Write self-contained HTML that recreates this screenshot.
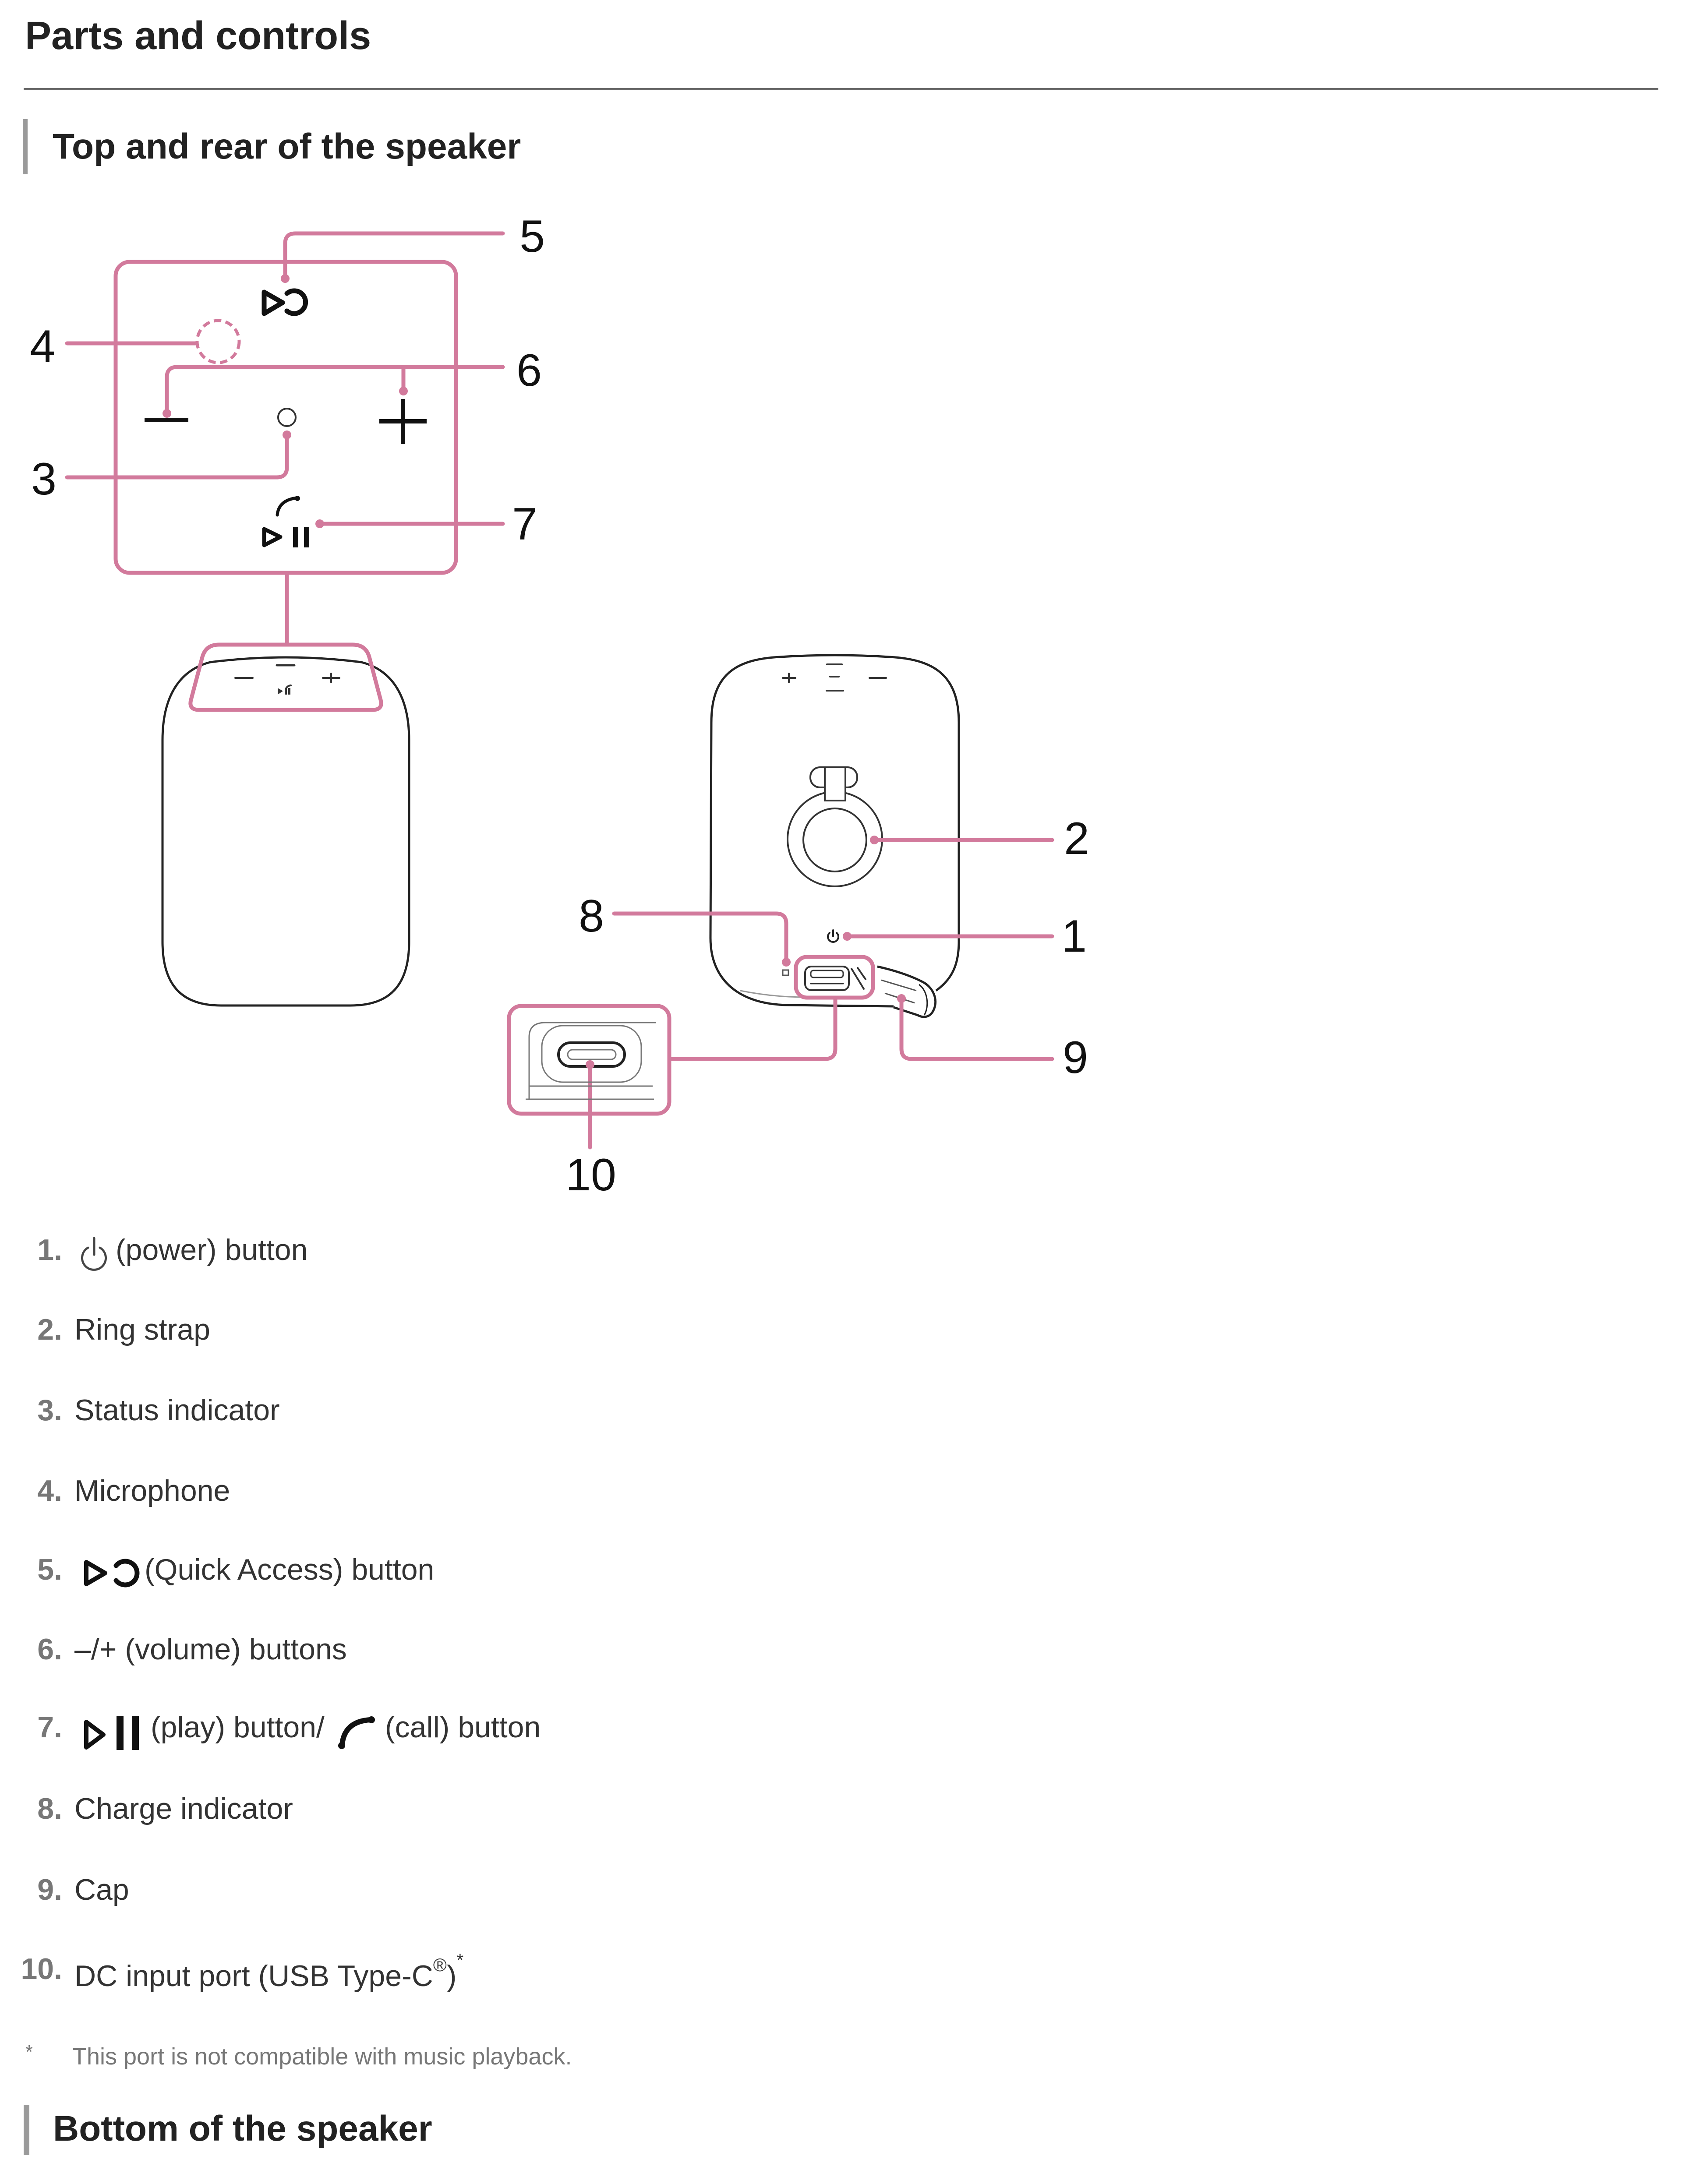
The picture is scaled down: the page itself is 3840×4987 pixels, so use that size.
<!DOCTYPE html>
<html>
<head>
<meta charset="utf-8">
<style>
  html,body{margin:0;padding:0;background:#fff;}
  svg{display:block;}
  text{font-family:"Liberation Sans", Arial, sans-serif;}
</style>
</head>
<body>
<svg width="3840" height="4987" viewBox="0 0 3840 4987" xmlns="http://www.w3.org/2000/svg">
  <rect x="0" y="0" width="3840" height="4987" fill="#fff"/>

  <!-- Title -->
  <text x="57" y="112" font-size="90" font-weight="bold" fill="#222">Parts and controls</text>
  <rect x="54" y="201" width="3732" height="5" fill="#666"/>

  <!-- Heading 1 -->
  <rect x="52" y="272" width="11" height="126" fill="#9a9a9a"/>
  <text x="120" y="362" font-size="82" font-weight="bold" fill="#222">Top and rear of the speaker</text>

  <!-- ===== Top panel callout box ===== -->
  <g fill="none" stroke="#d27a9c" stroke-width="9" stroke-linecap="round" stroke-linejoin="round">
    <rect x="264" y="598" width="777" height="710" rx="32"/>
    <!-- 5 -->
    <path d="M1148 533 H674 Q651 533 651 556 V628"/>
    <!-- 4 -->
    <path d="M153 784 H448"/>
    <!-- 6 -->
    <path d="M1148 838 H404 Q381 838 381 861 V935"/>
    <path d="M921 838 V885"/>
    <!-- 3 -->
    <path d="M655 993 V1067 Q655 1090 632 1090 H153"/>
    <!-- 7 -->
    <path d="M1148 1196 H730"/>
    <!-- connector to speaker -->
    <path d="M655 1308 V1472"/>
  </g>
  <!-- dashed mic circle -->
  <circle cx="498" cy="780" r="48" fill="none" stroke="#d27a9c" stroke-width="7" stroke-dasharray="17 10"/>
  <!-- dots -->
  <g fill="#d27a9c">
    <circle cx="651" cy="636" r="10"/>
    <circle cx="381" cy="944" r="10"/>
    <circle cx="921" cy="893" r="10"/>
    <circle cx="655" cy="993" r="10"/>
    <circle cx="730" cy="1196" r="10"/>
  </g>

  <!-- panel icons -->
  <g fill="none" stroke="#111" stroke-linecap="round" stroke-linejoin="round">
    <!-- quick access -->
    <polygon points="603,667 603,716 645,691" stroke-width="11"/>
    <path d="M655 670 A26 26 0 1 1 655 710" stroke-width="11"/>
    <!-- minus / plus -->
    <path d="M330 959 H430" stroke-width="10" stroke-linecap="butt"/>
    <path d="M866 962 H974 M920 911 V1014" stroke-width="10" stroke-linecap="butt"/>
    <!-- status -->
    <circle cx="655" cy="953" r="20" stroke="#333" stroke-width="4"/>
    <!-- play/pause -->
    <polygon points="603,1208 603,1245 640,1226" stroke-width="9"/>
    <path d="M633 1176 Q636 1143 676 1137" stroke-width="7"/>
  </g>
  <g fill="#111">
    <rect x="669" y="1203" width="12" height="47"/>
    <rect x="694" y="1203" width="12" height="47"/>
    <circle cx="679" cy="1138" r="6"/>
  </g>

  <!-- ===== Left speaker ===== -->
  <path d="M371 2150 L371 1690 C371 1590 410 1530 480 1512 Q652 1490 825 1512 C895 1530 934 1590 934 1690 L934 2150 C934 2250 890 2296 800 2296 L505 2296 C415 2296 371 2250 371 2150 Z" fill="none" stroke="#222" stroke-width="5"/>
  <g stroke="#333" stroke-width="4" fill="none" stroke-linecap="round">
    <path d="M632 1519 H672" stroke-width="5"/>
    <path d="M537 1548 H577"/>
    <path d="M737 1548 H775 M756 1538 V1558"/>
    <path d="M652 1574 Q655 1566 664 1565"/>
  </g>
  <g fill="#333">
    <polygon points="634,1571 634,1586 646,1578"/>
    <rect x="650" y="1571" width="5" height="15"/>
    <rect x="658" y="1571" width="5" height="15"/>
  </g>
  <path d="M500 1472 L805 1472 Q835 1472 843 1500 L869 1598 Q875 1621 850 1621 L455 1621 Q430 1621 436 1598 L462 1500 Q470 1472 500 1472 Z" fill="none" stroke="#d27a9c" stroke-width="9"/>

  <!-- ===== Right speaker ===== -->
  <path d="M2137 2262 C2175 2235 2189 2200 2189 2150 L2189 1650 C2189 1540 2130 1505 2030 1500 Q1906 1492 1781 1500 C1680 1505 1624 1540 1624 1650 L1622 2142 C1622 2240 1690 2294 1800 2295 L2040 2298" fill="none" stroke="#222" stroke-width="5"/>
  <path d="M1690 2262 Q1760 2276 1830 2277" fill="none" stroke="#999" stroke-width="3"/>
  <!-- top markings -->
  <g stroke="#333" stroke-width="4" fill="none" stroke-linecap="round">
    <path d="M1787 1548 H1816 M1801 1538 V1558"/>
    <path d="M1985 1548 H2023"/>
    <path d="M1895 1545 H1915"/>
    <path d="M1887 1577 H1925"/>
    <path d="M1888 1517 H1922"/>
  </g>
  <!-- ring strap -->
  <g fill="none" stroke="#333" stroke-width="4">
    <circle cx="1906" cy="1916" r="108"/>
    <circle cx="1906" cy="1918" r="72"/>
    <rect x="1850" y="1752" width="107" height="46" rx="22" fill="#fff"/>
    <rect x="1883" y="1752" width="47" height="76" fill="#fff"/>
  </g>
  <!-- power icon -->
  <g fill="none" stroke="#222" stroke-width="4" stroke-linecap="round">
    <path d="M1894 2130 A12 12 0 1 0 1910 2130"/>
    <path d="M1902 2124 V2138"/>
  </g>
  <!-- charge indicator -->
  <rect x="1787" y="2215" width="13" height="12" fill="none" stroke="#555" stroke-width="3"/>
  <!-- port -->
  <g fill="none" stroke="#333" stroke-width="4" stroke-linecap="round">
    <rect x="1838" y="2207" width="100" height="54" rx="14"/>
    <rect x="1851" y="2216" width="74" height="16" rx="6" stroke-width="3"/>
    <path d="M1851 2246 H1925" stroke-width="3"/>
    <path d="M1944 2212 L1972 2258 M1958 2210 L1976 2236"/>
  </g>
  <!-- cap -->
  <g fill="none" stroke="#222" stroke-width="5" stroke-linejoin="round">
    <path d="M2003 2207 C2040 2215 2080 2228 2108 2243 C2130 2255 2142 2282 2132 2305 C2125 2322 2110 2326 2095 2318 L2040 2300"/>
    <path d="M2098 2248 C2118 2262 2122 2298 2110 2318" stroke-width="3"/>
    <path d="M2012 2238 L2092 2262 M2020 2268 L2088 2290" stroke-width="3" stroke="#555"/>
  </g>

  <!-- right speaker callouts -->
  <g fill="none" stroke="#d27a9c" stroke-width="9" stroke-linecap="round" stroke-linejoin="round">
    <rect x="1817" y="2185" width="176" height="93" rx="25"/>
    <!-- 2 -->
    <path d="M1996 1918 H2402"/>
    <!-- 1 -->
    <path d="M1934 2138 H2402"/>
    <!-- 8 -->
    <path d="M1402 2086 H1772 Q1795 2086 1795 2109 V2190"/>
    <!-- 9 -->
    <path d="M2058 2282 V2395 Q2058 2418 2081 2418 H2402"/>
    <!-- port to box -->
    <path d="M1907 2278 V2395 Q1907 2418 1884 2418 H1528"/>
    <!-- callout box -->
    <rect x="1162" y="2297" width="366" height="246" rx="28"/>
    <!-- 10 -->
    <path d="M1347 2431 V2620"/>
  </g>
  <g fill="#d27a9c">
    <circle cx="1996" cy="1918" r="10"/>
    <circle cx="1934" cy="2138" r="10"/>
    <circle cx="1795" cy="2197" r="10"/>
    <circle cx="2058" cy="2280" r="10"/>
    <circle cx="1347" cy="2431" r="10"/>
  </g>
  <!-- callout box interior -->
  <g fill="none" stroke="#777" stroke-width="3">
    <path d="M1208 2512 V2368 Q1208 2335 1245 2335 H1497"/>
    <path d="M1208 2480 H1490"/>
    <path d="M1200 2510 H1493"/>
    <rect x="1237" y="2342" width="227" height="129" rx="48"/>
    <rect x="1296" y="2397" width="110" height="22" rx="11"/>
  </g>
  <rect x="1275" y="2381" width="151" height="54" rx="27" fill="none" stroke="#222" stroke-width="6"/>
  <circle cx="1347" cy="2431" r="10" fill="#d27a9c"/>

  <!-- diagram labels -->
  <g font-size="104" fill="#111" text-anchor="middle">
    <text x="1215" y="575">5</text>
    <text x="97" y="826">4</text>
    <text x="1208" y="881">6</text>
    <text x="100" y="1129">3</text>
    <text x="1198" y="1232">7</text>
    <text x="2458" y="1950">2</text>
    <text x="2452" y="2173">1</text>
    <text x="1350" y="2127">8</text>
    <text x="2455" y="2450">9</text>
    <text x="1349" y="2718">10</text>
  </g>

  <!-- ===== List ===== -->
  <g font-size="68" font-weight="bold" fill="#777" text-anchor="end">
    <text x="142" y="2877">1.</text>
    <text x="142" y="3059">2.</text>
    <text x="142" y="3243">3.</text>
    <text x="142" y="3427">4.</text>
    <text x="142" y="3607">5.</text>
    <text x="142" y="3789">6.</text>
    <text x="142" y="3967">7.</text>
    <text x="142" y="4153">8.</text>
    <text x="142" y="4338">9.</text>
    <text x="142" y="4519">10.</text>
  </g>
  <g font-size="68" fill="#333">
    <text x="264" y="2877">(power) button</text>
    <text x="170" y="3059">Ring strap</text>
    <text x="170" y="3243">Status indicator</text>
    <text x="170" y="3427">Microphone</text>
    <text x="330" y="3607">(Quick Access) button</text>
    <text x="170" y="3789">–/+ (volume) buttons</text>
    <text x="344" y="3967">(play) button/</text>
    <text x="879" y="3967">(call) button</text>
    <text x="170" y="4153">Charge indicator</text>
    <text x="170" y="4338">Cap</text>
    <text x="170" y="4535">DC input port (USB Type-C<tspan font-size="42" dy="-34">®</tspan><tspan dy="34">)</tspan><tspan font-size="40" dy="-46">*</tspan></text>
  </g>

  <!-- list icons -->
  <g fill="none" stroke="#444" stroke-width="5" stroke-linecap="round">
    <path d="M201 2849 A27 27 0 1 0 228 2849"/>
    <path d="M215 2827 V2865"/>
  </g>
  <g fill="none" stroke="#111" stroke-linejoin="round" stroke-linecap="round">
    <polygon points="197,3567 197,3617 240,3592" stroke-width="10"/>
    <path d="M265 3575 A27 27 0 1 1 265 3609" stroke-width="11"/>
    <polygon points="197,3932 197,3990 236,3961" stroke-width="10"/>
    <path d="M781 3984 Q786 3931 845 3927" stroke-width="12"/>
  </g>
  <g fill="#111">
    <rect x="266" y="3918" width="16" height="78"/>
    <rect x="301" y="3918" width="16" height="78"/>
    <circle cx="780" cy="3986" r="8"/>
    <circle cx="848" cy="3927" r="8"/>
  </g>

  <!-- footnote -->
  <text x="58" y="4700" font-size="44" fill="#777">*</text>
  <text x="165" y="4714" font-size="54" fill="#777">This port is not compatible with music playback.</text>

  <!-- Heading 2 -->
  <rect x="54" y="4806" width="13" height="115" fill="#9a9a9a"/>
  <text x="121" y="4888" font-size="82" font-weight="bold" fill="#222">Bottom of the speaker</text>
</svg>
</body>
</html>
